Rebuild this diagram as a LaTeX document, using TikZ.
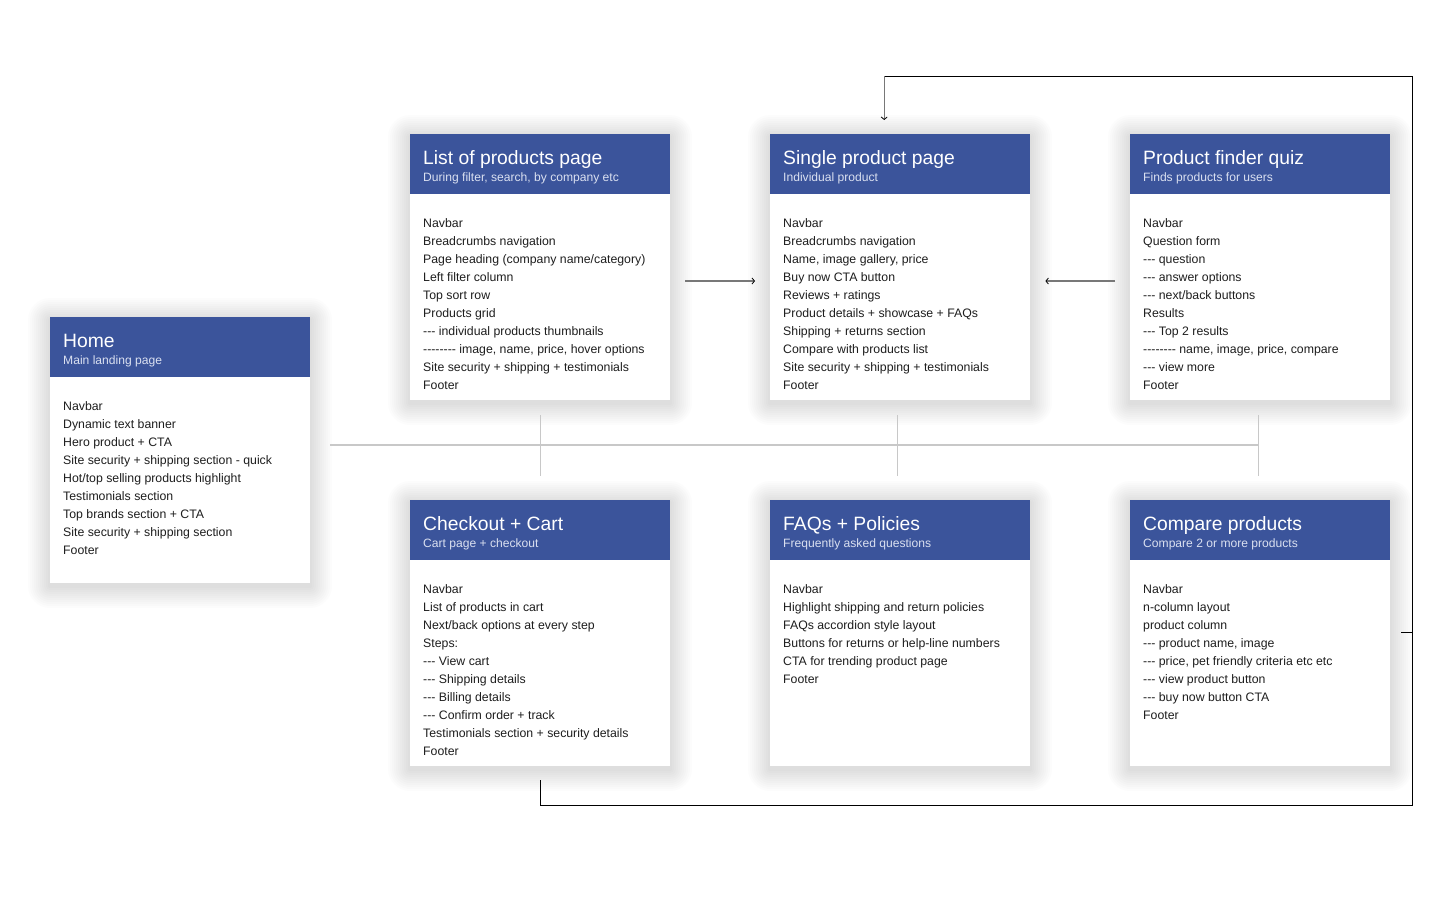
\documentclass[tikz,border=0pt]{standalone}
\usepackage{fontspec}
\setmainfont{Liberation Sans}
\usetikzlibrary{arrows.meta}
\definecolor{hdrblue}{RGB}{59,84,155}
\definecolor{subcol}{RGB}{218,224,240}
\definecolor{bodytext}{RGB}{30,30,30}
\definecolor{gridgray}{RGB}{200,200,200}
\definecolor{arrowgray}{RGB}{120,120,120}
\newcommand\dthree{-{}-{}-}
\newcommand\deight{-{}-{}-{}-{}-{}-{}-{}-}
\tikzset{
  cardbox/.style={draw=none, fill=white, rectangle, inner sep=0pt, minimum width=260pt, anchor=north west},
  hdrbox/.style={fill=hdrblue, draw=none, rectangle, inner sep=0pt, minimum width=260pt, minimum height=60pt, anchor=north west},
  titletext/.style={anchor=base west, inner sep=0pt, text=white, font=\fontsize{19.3}{22}\selectfont},
  subtext/.style={anchor=base west, inner sep=0pt, text=subcol, font=\fontsize{12.1}{14}\selectfont},
  bodylist/.style={anchor=north west, inner sep=0pt, align=left, text=bodytext, font=\fontsize{12.3}{18}\selectfont},
  gridline/.style={draw=gridgray, line width=0.6pt},
  mainline/.style={draw=gridgray, line width=1.3pt},
  flowarrow/.style={draw=arrowgray, line width=1.3pt, -{Straight Barb[length=2.5pt,width=6pt,line width=0.8pt,black]}},
  loopline/.style={draw=black, line width=1pt},
  shadowlayer/.style={fill=black, fill opacity=0.011, draw=none},
}
% #1 name, #2 x, #3 y, #4 height, #5 title, #6 subtitle, #7 body
\newcommand\pagecard[7]{%
  \foreach \s in {2,4,...,22}{%
    \fill[shadowlayer, rounded corners=\s pt] (#2-\s,#3-\s+3) rectangle (#2+260+\s,#3+#4+\s+3);
  }
  \node[cardbox, minimum height=#4pt] (#1card) at (#2,#3) {};
  \node[hdrbox] (#1hdr) at (#2,#3) {};
  \node[titletext] (#1title) at ([xshift=13pt,yshift=-30pt]#1hdr.north west) {#5};
  \node[subtext] (#1sub) at ([xshift=13pt,yshift=-47pt]#1hdr.north west) {#6};
  \node[bodylist] (#1body) at ([xshift=13pt,yshift=-84pt]#1hdr.north west) {#7};
}
\begin{document}
\begin{tikzpicture}[x=1pt,y=-1pt]
\useasboundingbox (0,0) rectangle (1440,900);
\fill[white] (0,0) rectangle (1440,900);

\pagecard{home}{50}{317}{266}{Home}{Main landing page}{Navbar\\Dynamic text banner\\Hero product + CTA\\Site security + shipping section - quick\\Hot/top selling products highlight\\Testimonials section\\Top brands section + CTA\\Site security + shipping section\\Footer}

\pagecard{list}{410}{134}{266}{List of products page}{During filter, search, by company etc}{Navbar\\Breadcrumbs navigation\\Page heading (company name/category)\\Left filter column\\Top sort row\\Products grid\\\dthree\ individual products thumbnails\\\deight\ image, name, price, hover options\\Site security + shipping + testimonials\\Footer}

\pagecard{single}{770}{134}{266}{Single product page}{Individual product}{Navbar\\Breadcrumbs navigation\\Name, image gallery, price\\Buy now CTA button\\Reviews + ratings\\Product details + showcase + FAQs\\Shipping + returns section\\Compare with products list\\Site security + shipping + testimonials\\Footer}

\pagecard{quiz}{1130}{134}{266}{Product finder quiz}{Finds products for users}{Navbar\\Question form\\\dthree\ question\\\dthree\ answer options\\\dthree\ next/back buttons\\Results\\\dthree\ Top 2 results\\\deight\ name, image, price, compare\\\dthree\ view more\\Footer}

\pagecard{cart}{410}{500}{266}{Checkout + Cart}{Cart page + checkout}{Navbar\\List of products in cart\\Next/back options at every step\\Steps:\\\dthree\ View cart\\\dthree\ Shipping details\\\dthree\ Billing details\\\dthree\ Confirm order + track\\Testimonials section + security details\\Footer}

\pagecard{faq}{770}{500}{266}{FAQs + Policies}{Frequently asked questions}{Navbar\\Highlight shipping and return policies\\FAQs accordion style layout\\Buttons for returns or help-line numbers\\CTA for trending product page\\Footer}

\pagecard{compare}{1130}{500}{266}{Compare products}{Compare 2 or more products}{Navbar\\n-column layout\\product column\\\dthree\ product name, image\\\dthree\ price, pet friendly criteria etc etc\\\dthree\ view product button\\\dthree\ buy now button CTA\\Footer}

% hub lines
\coordinate (hubL) at ([xshift=20pt]homecard.east |- 0,445);
\coordinate (hubR) at (quizcard.south -| 1258,0);
\draw[mainline] (hubL) -- (hubR |- hubL);
\draw[gridline] (listcard.south |- 0,415) -- (listcard.south |- 0,476);
\draw[gridline] ([xshift=-3pt]singlecard.south |- 0,415) -- ([xshift=-3pt]singlecard.south |- 0,476);
\draw[gridline] ([xshift=-2pt]quizcard.south |- 0,415) -- ([xshift=-2pt]quizcard.south |- 0,476);

% flow arrows
\coordinate (a1s) at ([xshift=15pt]listcard.east |- 0,281);
\coordinate (a1e) at ([xshift=-15pt]singlecard.west |- 0,281);
\draw[flowarrow] (a1s) -- (a1e);
\coordinate (a2s) at ([xshift=-15pt]quizcard.west |- 0,281);
\coordinate (a2e) at ([xshift=15pt]singlecard.east |- 0,281);
\draw[flowarrow] (a2s) -- (a2e);

% loop from checkout back to single product
\coordinate (l0) at (cartcard.south |- 0,780);
\coordinate (l1) at (cartcard.south |- 0,805);
\coordinate (l2) at (1412,805);
\coordinate (l3) at (1412,76);
\coordinate (l4) at ([xshift=-16pt]singlehdr.north |- 0,76);
\coordinate (l5) at ([xshift=-16pt]singlehdr.north |- 0,120);
\draw[loopline] (l0) -- (l1) -- (l2) -- (l3) -- (l4);
\draw[flowarrow] (l4) -- (l5);
\coordinate (t1) at (1401,632);
\draw[loopline] (t1) -- (l2 |- t1);
\end{tikzpicture}
\end{document}
